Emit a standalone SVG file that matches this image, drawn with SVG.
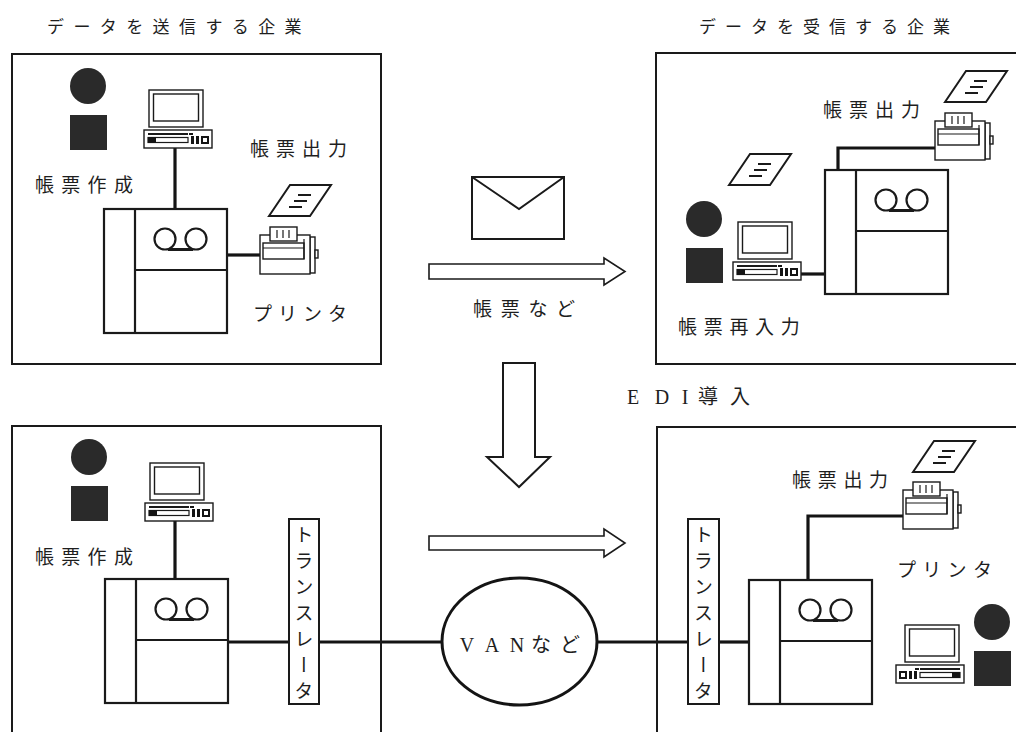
<svg xmlns="http://www.w3.org/2000/svg" xmlns:xlink="http://www.w3.org/1999/xlink" width="1016" height="732" viewBox="0 0 1016 732">
  <style>
    .frame { fill: none; stroke: #1a1a1a; stroke-width: 2; }
    .thin { fill: #fff; stroke: #1a1a1a; stroke-width: 1.4; }
    .wire { fill: none; stroke: #141414; stroke-width: 3.2; }
    .dark { fill: #2a2a2a; }
    .ink { fill: #141414; }
    .lbl { font-family: "Noto Sans CJK JP", "Noto Sans", sans-serif; font-size: 19px; fill: #1e1e1e; dominant-baseline: central; }
    .ttl { font-family: "Noto Sans CJK JP", "Noto Sans", sans-serif; font-size: 17px; fill: #1e1e1e; dominant-baseline: central; }
    .ser { font-family: "Liberation Serif", "Noto Sans CJK JP", serif; font-size: 20px; fill: #1e1e1e; dominant-baseline: central; text-anchor: middle; }
    .vert { font-family: "Noto Sans CJK JP", sans-serif; font-size: 19px; fill: #1e1e1e; writing-mode: vertical-rl; text-orientation: upright; letter-spacing: 7px; }
    .arrow { fill: #fff; stroke: #1a1a1a; stroke-width: 1.6; stroke-linejoin: miter; }
  </style>
  <defs>
    <!-- host computer: left pane, tape unit on top, storage below -->
    <g id="mainframe">
      <rect class="thin" x="0" y="0" width="123" height="124" style="stroke-width:2.2"/>
      <line x1="31" y1="0" x2="31" y2="124" stroke="#1a1a1a" stroke-width="2.2"/>
      <line x1="31" y1="61" x2="123" y2="61" stroke="#1a1a1a" stroke-width="2.2"/>
      <circle cx="61" cy="30" r="10.5" fill="none" stroke="#1a1a1a" stroke-width="2.2"/>
      <circle cx="92" cy="30" r="10.5" fill="none" stroke="#1a1a1a" stroke-width="2.2"/>
      <line x1="64" y1="40.5" x2="89" y2="40.5" stroke="#1a1a1a" stroke-width="3"/>
    </g>
    <!-- personal computer: monitor over desktop unit -->
    <g id="pc">
      <rect class="thin" x="5" y="0" width="54" height="37"/>
      <rect class="thin" x="9.5" y="4" width="45" height="27"/>
      <rect class="thin" x="0" y="40" width="68" height="18"/>
      <line x1="4" y1="44" x2="44" y2="44" stroke="#1a1a1a" stroke-width="1.8"/>
      <rect class="ink" x="45" y="43" width="4" height="2"/>
      <rect class="thin" x="4" y="47.5" width="40" height="5" style="stroke-width:1.2"/>
      <rect class="ink" x="4" y="47" width="8" height="6"/>
      <rect class="ink" x="47" y="46" width="3" height="8"/>
      <rect class="ink" x="52" y="46" width="3" height="8"/>
      <rect class="ink" x="57" y="46" width="8" height="8"/>
      <rect x="59" y="48" width="4" height="4" fill="#fff"/>
    </g>
    <!-- printer with paper feeder -->
    <g id="printer">
      <rect class="thin" x="50" y="2" width="5" height="36"/>
      <rect class="thin" x="55" y="15" width="3" height="8"/>
      <rect class="thin" x="0" y="0" width="50" height="39"/>
      <rect class="thin" x="3" y="8" width="41" height="16"/>
      <line x1="3" y1="13" x2="44" y2="13" stroke="#1a1a1a" stroke-width="1.2"/>
      <line x1="44" y1="4" x2="44" y2="24" stroke="#1a1a1a" stroke-width="1.2"/>
      <rect class="thin" x="10" y="-8" width="27" height="14"/>
      <line x1="17" y1="-5" x2="17" y2="3" stroke="#1a1a1a" stroke-width="1.2"/>
      <line x1="23" y1="-5" x2="23" y2="3" stroke="#1a1a1a" stroke-width="1.2"/>
      <line x1="29" y1="-5" x2="29" y2="3" stroke="#1a1a1a" stroke-width="1.2"/>
    </g>
    <!-- printed form -->
    <g id="form">
      <polygon points="0,31 21,0 62,0 41,31" fill="#fff" stroke="#1a1a1a" stroke-width="2"/>
      <line x1="29" y1="10" x2="42" y2="10" stroke="#1a1a1a" stroke-width="2"/>
      <line x1="25" y1="16" x2="38" y2="16" stroke="#1a1a1a" stroke-width="2"/>
      <line x1="20" y1="22" x2="33" y2="22" stroke="#1a1a1a" stroke-width="2"/>
    </g>
    <!-- form media: disk and card -->
    <g id="media">
      <circle class="dark" cx="18" cy="18" r="18"/>
      <rect class="dark" x="0" y="47" width="37" height="35"/>
    </g>
  </defs>

  <rect x="0" y="0" width="1016" height="732" fill="#fff"/>

  <!-- captions above the two companies -->
  <text class="ttl" x="47" y="25" style="letter-spacing:9.4px">データを送信する企業</text>
  <text class="ttl" x="699" y="25" style="letter-spacing:9px">データを受信する企業</text>

  <!-- connectors -->
  <g id="connectors">
    <line class="wire" x1="175" y1="148" x2="175" y2="209"/>
    <line class="wire" x1="228" y1="255" x2="260" y2="255"/>
    <polyline class="wire" points="935,148 838,148 838,170"/>
    <line class="wire" x1="801" y1="274" x2="825" y2="274"/>
    <line class="wire" x1="175" y1="521" x2="175" y2="579"/>
    <line class="wire" x1="228" y1="642" x2="289" y2="642"/>
    <line class="wire" x1="319" y1="642" x2="442" y2="642"/>
    <line class="wire" x1="597" y1="642" x2="688" y2="642"/>
    <line class="wire" x1="719" y1="642" x2="749" y2="642"/>
    <polyline class="wire" points="808,580 808,516 903,516"/>
  </g>

  <!-- sending company, paper-based -->
  <g id="sender-paper">
    <rect class="frame" x="12" y="54" width="369" height="310"/>
    <use href="#media" x="70" y="68"/>
    <use href="#pc" x="144" y="90"/>
    <use href="#mainframe" x="104" y="209"/>
    <use href="#printer" x="260" y="235"/>
    <use href="#form" x="269" y="185"/>
    <text class="lbl" x="250" y="147" style="letter-spacing:7px">帳票出力</text>
    <text class="lbl" x="35" y="183" style="letter-spacing:7.3px">帳票作成</text>
    <text class="lbl" x="253" y="312" style="letter-spacing:6px">プリンタ</text>
  </g>

  <!-- receiving company, paper-based -->
  <g id="receiver-paper">
    <rect class="frame" x="656" y="53" width="380" height="311"/>
    <use href="#form" x="945" y="71"/>
    <use href="#printer" x="935" y="121"/>
    <use href="#mainframe" x="825" y="170"/>
    <use href="#form" x="729" y="154"/>
    <use href="#media" x="686" y="201"/>
    <use href="#pc" x="733" y="222"/>
    <text class="lbl" x="823" y="108" style="letter-spacing:7px">帳票出力</text>
    <text class="lbl" x="678" y="325" style="letter-spacing:6.7px">帳票再入力</text>
  </g>

  <!-- paper transfer between the companies -->
  <g id="paper-transfer">
    <rect x="472" y="177" width="92" height="62" fill="#fff" stroke="#1a1a1a" stroke-width="2"/>
    <polyline points="472,177 519,209 564,177" fill="none" stroke="#1a1a1a" stroke-width="2"/>
    <polygon class="arrow" points="429,264 604,264 604,258 625,271.5 604,285 604,279 429,279"/>
    <text class="lbl" x="473" y="307" style="letter-spacing:8.7px">帳票など</text>
  </g>

  <!-- move to EDI -->
  <g id="edi-step">
    <polygon class="arrow" points="503,363 535,363 535,457 550,457 519,487 487,457 503,457" style="stroke-width:2"/>
    <text class="ser" x="633 662 685 708 740" y="397">EDI導入</text>
  </g>

  <!-- sending company, EDI -->
  <g id="sender-edi">
    <rect class="frame" x="12" y="426" width="369" height="320"/>
    <use href="#media" x="71" y="439"/>
    <use href="#pc" x="145" y="463"/>
    <use href="#mainframe" x="105" y="579"/>
    <rect class="thin" x="289" y="519" width="30" height="185" style="stroke-width:2"/>
    <text class="vert" x="304" y="525">トランスレータ</text>
    <text class="lbl" x="35" y="555" style="letter-spacing:7.3px">帳票作成</text>
  </g>

  <!-- electronic transfer arrow -->
  <polygon id="edi-transfer" class="arrow" points="429,536 604,536 604,529 625,543 604,557 604,550 429,550"/>

  <!-- value-added network -->
  <g id="van">
    <ellipse cx="519.5" cy="641.5" rx="77.5" ry="63.5" fill="#fff" stroke="#141414" stroke-width="3"/>
    <text class="ser" x="467 492 517 541 570" y="645">VANなど</text>
  </g>

  <!-- receiving company, EDI -->
  <g id="receiver-edi">
    <rect class="frame" x="657" y="427" width="380" height="320"/>
    <rect class="thin" x="688" y="519" width="31" height="185" style="stroke-width:2"/>
    <text class="vert" x="703.5" y="525">トランスレータ</text>
    <use href="#mainframe" x="749" y="580"/>
    <use href="#form" x="913" y="441"/>
    <use href="#printer" x="903" y="490"/>
    <use href="#media" x="974" y="604"/>
    <use href="#pc" transform="translate(964,625) scale(-1,1)"/>
    <text class="lbl" x="792" y="478" style="letter-spacing:6.7px">帳票出力</text>
    <text class="lbl" x="897" y="568" style="letter-spacing:6.3px">プリンタ</text>
  </g>
</svg>
